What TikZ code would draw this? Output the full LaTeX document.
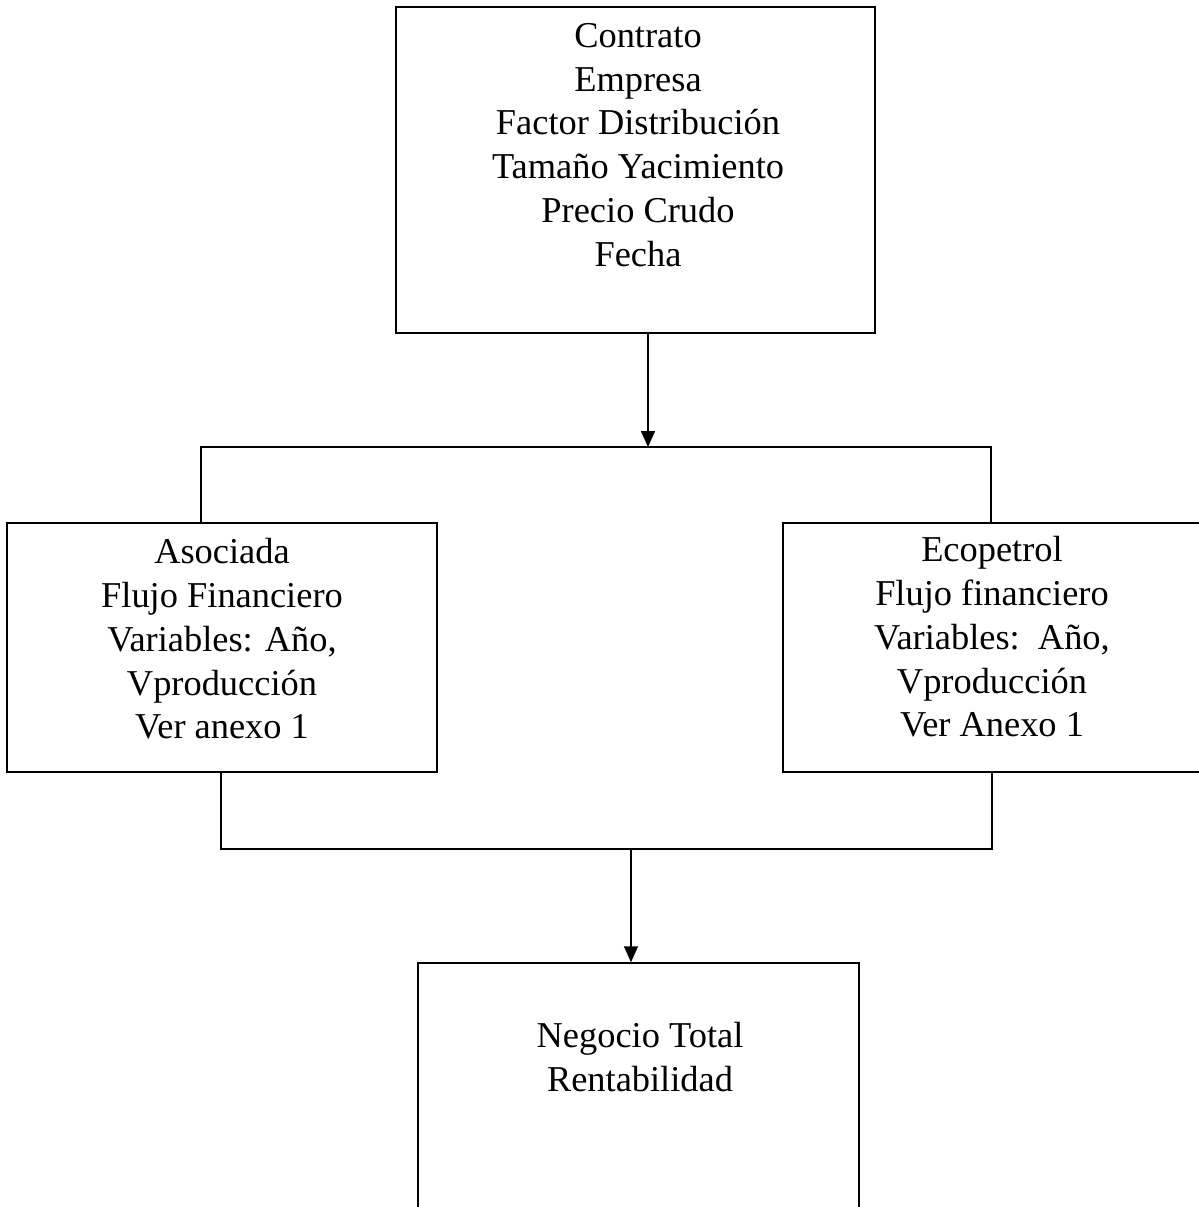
\documentclass[tikz,border=0pt]{standalone}
\usepackage{fontspec}
\setmainfont{Liberation Serif}
\usetikzlibrary{arrows.meta}

\tikzset{every picture/.style={line width=0.75pt}}
\tikzset{
  caja/.style={draw, rectangle, inner sep=0pt},
  texto/.style={align=center, inner sep=0pt, font=\fontsize{18.2}{21.9}\selectfont},
  flecha/.style={-{Triangle[length=8pt,width=7pt]}}
}

\begin{document}
\begin{tikzpicture}[x=0.5pt,y=0.5pt,yscale=-1,xscale=1]
				\useasboundingbox (0,0) rectangle (1199,1207);
				%Shape: Rectangle [id:contrato]
				\node [caja, minimum width=239.5pt, minimum height=163pt] (contrato) at (635.5,170) {};
				%Shape: Rectangle [id:asociada]
				\node [caja, minimum width=215pt, minimum height=124.5pt] (asociada) at (222,647.5) {};
				%Shape: Rectangle [id:ecopetrol]
				\node [caja, minimum width=210pt, minimum height=124.5pt] (ecopetrol) at (993,647.5) {};
				%Shape: Rectangle [id:negocio]
				\node [caja, minimum width=220.5pt, minimum height=127pt] (negocio) at (638.5,1090) {};

				% Text Node
				\node [texto] (tcontrato) at (638,145) {Contrato\\Empresa\\Factor Distribución\\Tamaño Yacimiento\\Precio Crudo\\Fecha};
				% Text Node
				\node [texto] (tasociada) at (222,639) {Asociada\\Flujo Financiero\\Variables: Año,\\Vproducción\\Ver anexo 1};
				% Text Node
				\node [texto] (tecopetrol) at (992,637) {Ecopetrol\\Flujo financiero\\Variables:\ \ Año,\\Vproducción\\Ver Anexo 1};
				% Text Node
				\node [texto] (tnegocio) at (640,1057) {Negocio Total\\Rentabilidad};

				%Straight Lines
				\coordinate (divide) at (648,447);
				\coordinate (izq) at (201,447);
				\coordinate (der) at (991,447);
				\draw [flecha] (contrato.south -| divide) -- (divide);
				\draw (asociada.north -| izq) -- (izq) -- (der) -- (ecopetrol.north -| der);
				\coordinate (une) at (631,849);
				\coordinate (izqb) at (221,849);
				\coordinate (derb) at (992,849);
				\draw (asociada.south -| izqb) -- (izqb) -- (derb) -- (ecopetrol.south -| derb);
				\draw [flecha] (une) -- (negocio.north -| une);
\end{tikzpicture}
\end{document}
